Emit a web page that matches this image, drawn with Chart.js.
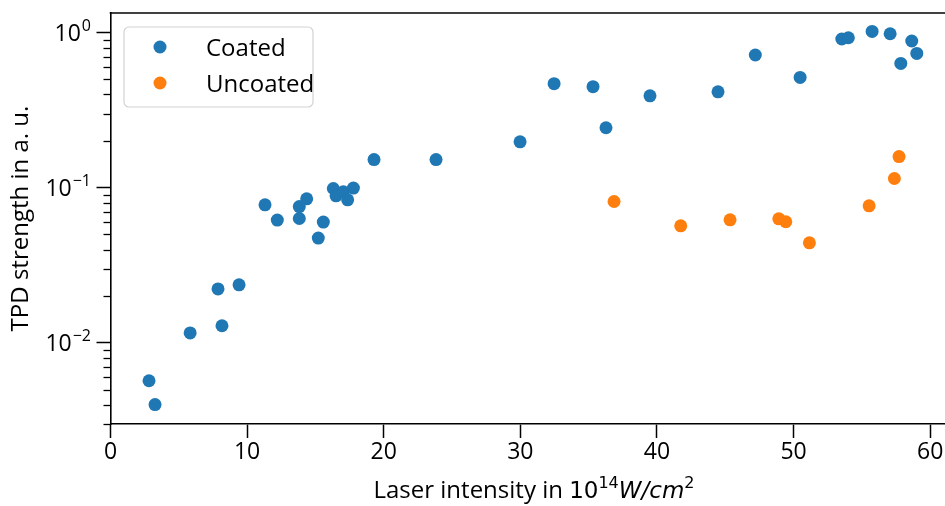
<!DOCTYPE html>
<html>
<head>
<meta charset="utf-8">
<script src="https://cdn.jsdelivr.net/npm/chart.js@4.4.1/dist/chart.umd.min.js"></script>
<style>
  html, body { margin: 0; padding: 0; overflow: hidden; background: #fff; }
</style>
</head>
<body>
<canvas id="graphique" width="965" height="506"></canvas>
<script>
// données
const coatedX = [2.82, 3.26, 5.83, 7.87, 8.16, 9.41, 11.31, 12.21, 13.82, 13.82, 14.36, 15.21, 15.58, 16.31, 16.51, 17.04, 17.36, 17.78, 19.29, 23.83, 29.98, 32.47, 35.32, 36.27, 39.49, 44.47, 47.20, 50.48, 53.53, 54.01, 55.75, 57.07, 58.65, 57.85, 59.02];
const coatedY = [0.0057, 0.0040, 0.0116, 0.0223, 0.0129, 0.0237, 0.0777, 0.0619, 0.0757, 0.0634, 0.0849, 0.0474, 0.0601, 0.099, 0.0888, 0.0942, 0.0837, 0.0996, 0.152, 0.152, 0.198, 0.469, 0.449, 0.244, 0.392, 0.416, 0.718, 0.515, 0.911, 0.928, 1.02, 0.985, 0.884, 0.634, 0.735];
const uncoatedX = [36.86, 41.74, 45.35, 48.92, 49.43, 51.16, 55.53, 57.38, 57.72];
const uncoatedY = [0.0816, 0.0569, 0.0622, 0.0631, 0.0604, 0.0442, 0.0765, 0.1148, 0.159];

const xTicks = [0, 10, 20, 30, 40, 50, 60];
const yMajors = [0.01, 0.1, 1];
const yMinors = [0.003, 0.004, 0.005, 0.006, 0.007, 0.008, 0.009, 0.02, 0.03, 0.04, 0.05, 0.06, 0.07, 0.08, 0.09, 0.2, 0.3, 0.4, 0.5, 0.6, 0.7, 0.8, 0.9];

const seriesLabels = ['Coated', 'Uncoated'];
const seriesColors = ['#1f77b4', '#ff7f0e'];

const police = "'Open Sans', 'DejaVu Sans', sans-serif";
const policeMath = "'DejaVu Sans', sans-serif";

function points(xs, ys) {
    return xs.map((x, i) => ({ x: x, y: ys[i] }));
}

const habillage = {
    id: 'habillage',
    afterDraw(chart) {
        const ctx = chart.ctx;
        const a = chart.chartArea;
        const sy = chart.scales.y;
        ctx.save();

        // cadre du haut
        ctx.strokeStyle = '#000';
        ctx.lineWidth = 1.6;
        ctx.beginPath();
        ctx.moveTo(a.left - 0.8, a.top);
        ctx.lineTo(a.right + 2, a.top);
        ctx.stroke();

        // graduations mineures
        ctx.lineWidth = 1.3;
        yMinors.forEach(v => {
            const py = Math.round(sy.getPixelForValue(v)) + 0.5;
            ctx.beginPath();
            ctx.moveTo(a.left - 7, py);
            ctx.lineTo(a.left, py);
            ctx.stroke();
        });

        // étiquettes 10^n
        ctx.fillStyle = '#000';
        ctx.textBaseline = 'alphabetic';
        yMajors.forEach(v => {
            const py = sy.getPixelForValue(v);
            const exp = Math.round(Math.log10(v));
            const sup = exp < 0 ? '\u2212' + (-exp) : String(exp);
            ctx.font = '16px ' + police;
            const wSup = ctx.measureText(sup).width;
            ctx.font = '23px ' + police;
            const wBase = ctx.measureText('10').width;
            const x0 = 90 - wSup - wBase;
            ctx.textAlign = 'left';
            ctx.fillText('10', x0, py + 8);
            ctx.font = '16px ' + police;
            ctx.fillText(sup, x0 + wBase + 1, py - 2);
        });

        // titre axe y
        ctx.save();
        ctx.translate(21, (a.top + a.bottom) / 2);
        ctx.rotate(-Math.PI / 2);
        ctx.font = '24px ' + police;
        ctx.textAlign = 'center';
        ctx.textBaseline = 'middle';
        ctx.fillText('TPD strength in a. u.', 0, 0);
        ctx.restore();

        // titre axe x
        const morceaux = [
            { t: 'Laser intensity in ', f: '24px ' + police, dy: 0 },
            { t: '10', f: '23px ' + policeMath, dy: 0 },
            { t: '14', f: '16px ' + policeMath, dy: -10 },
            { t: 'W/cm', f: 'italic 23px ' + policeMath, dy: 0 },
            { t: '2', f: '16px ' + policeMath, dy: -10 }
        ];
        let total = 0;
        morceaux.forEach(m => { ctx.font = m.f; m.w = ctx.measureText(m.t).width; total += m.w; });
        let xc = (a.left + a.right) / 2 - total / 2;
        ctx.textAlign = 'left';
        morceaux.forEach(m => {
            ctx.font = m.f;
            ctx.fillText(m.t, xc, 498 + m.dy);
            xc += m.w;
        });

        // légende
        const lx = 124, ly = 27, lw = 189, lh = 80;
        ctx.beginPath();
        ctx.roundRect(lx, ly, lw, lh, 5);
        ctx.fillStyle = 'rgba(255,255,255,0.8)';
        ctx.fill();
        ctx.strokeStyle = '#d3d3d3';
        ctx.lineWidth = 1.2;
        ctx.stroke();
        chart.data.datasets.forEach((ds, i) => {
            const cy = 47 + i * 36;
            ctx.beginPath();
            ctx.arc(160, cy, 6.5, 0, Math.PI * 2);
            ctx.fillStyle = ds.backgroundColor;
            ctx.fill();
            ctx.fillStyle = '#000';
            ctx.font = '24px ' + police;
            ctx.fillText(ds.label, 206, cy + 8.5);
        });

        ctx.restore();
    }
};

function dessinerGraphique() {
    const ctx = document.getElementById('graphique').getContext('2d');
    Chart.defaults.font.family = police;

    new Chart(ctx, {
        type: 'scatter',
        data: {
            datasets: [
                {
                    label: seriesLabels[0],
                    data: points(coatedX, coatedY),
                    backgroundColor: seriesColors[0],
                    borderColor: seriesColors[0],
                    borderWidth: 0,
                    pointRadius: 6.5,
                    pointHoverRadius: 6.5
                },
                {
                    label: seriesLabels[1],
                    data: points(uncoatedX, uncoatedY),
                    backgroundColor: seriesColors[1],
                    borderColor: seriesColors[1],
                    borderWidth: 0,
                    pointRadius: 6.5,
                    pointHoverRadius: 6.5
                }
            ]
        },
        options: {
            responsive: false,
            animation: false,
            layout: { padding: { top: 13, right: 7.5, left: 0, bottom: 0 } },
            plugins: {
                legend: { display: false },
                tooltip: { enabled: false }
            },
            scales: {
                x: {
                    type: 'linear',
                    min: 0,
                    max: 62,
                    afterBuildTicks: s => { s.ticks = xTicks.map(v => ({ value: v })); },
                    ticks: {
                        autoSkip: false,
                        maxRotation: 0,
                        color: '#000',
                        font: { size: 23 },
                        padding: 1
                    },
                    grid: { drawOnChartArea: false, tickLength: 14, tickWidth: 1.5, tickColor: '#000' },
                    border: { color: '#000', width: 1.6 },
                    afterFit: s => { s.height = 82; }
                },
                y: {
                    type: 'logarithmic',
                    min: 0.003,
                    max: 1.34,
                    afterBuildTicks: s => { s.ticks = yMajors.map(v => ({ value: v, major: true })); },
                    ticks: { display: false },
                    grid: { drawOnChartArea: false, tickLength: 14, tickWidth: 1.5, tickColor: '#000' },
                    border: { color: '#000', width: 1.6 },
                    afterFit: s => { s.width = 110.5; }
                }
            }
        },
        plugins: [habillage]
    });
}

window.onload = dessinerGraphique;
</script>
</body>
</html>
